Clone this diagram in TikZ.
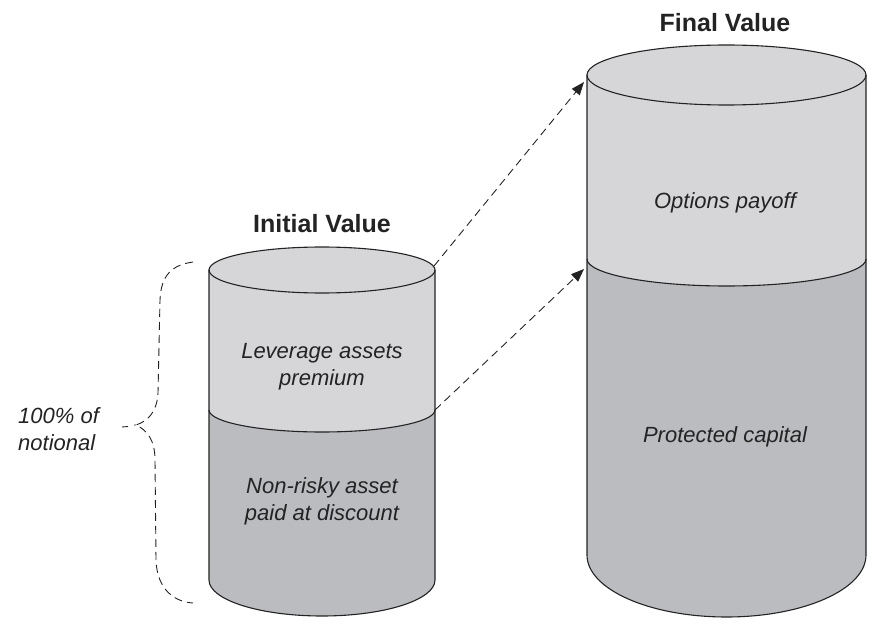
\documentclass[tikz,border=0pt]{standalone}
\usepackage{fontspec}
\setmainfont{Liberation Sans}
\usetikzlibrary{arrows.meta}
\definecolor{lightfill}{RGB}{214,214,216}
\definecolor{darkfill}{RGB}{187,188,192}
\definecolor{ink}{RGB}{35,35,35}
\tikzset{
  outline/.style={draw=ink, line width=1.1pt},
  body/.style={font=\fontsize{22}{27}\selectfont\itshape, text=ink, align=center, inner sep=0pt},
  title/.style={font=\fontsize{25}{30}\selectfont\bfseries, text=ink, inner sep=0pt},
  dasharrow/.style={draw=ink, line width=0.9pt, dash pattern=on 8pt off 5pt, -{Triangle[length=13pt,width=10pt]}},
  bracepath/.style={draw=ink, line width=0.9pt, dash pattern=on 8pt off 5pt}
}
\begin{document}
\begin{tikzpicture}[x=1pt,y=1pt]
\useasboundingbox (0,0) rectangle (879,625);
% ---------- left cylinder ----------
\fill[lightfill] (209,355) -- (209,215) arc[start angle=180,end angle=360,x radius=113,y radius=22] -- (435,355) arc[start angle=0,end angle=180,x radius=113,y radius=23] -- cycle;
\fill[darkfill] (209,215) arc[start angle=180,end angle=360,x radius=113,y radius=22] -- (435,45) arc[start angle=0,end angle=-180,x radius=113,y radius=36] -- cycle;
\draw[outline] (322,355) ellipse[x radius=113,y radius=23];
\draw[outline] (209,355) -- (209,45) arc[start angle=180,end angle=360,x radius=113,y radius=36] -- (435,355);
\draw[outline] (209,215) arc[start angle=180,end angle=360,x radius=113,y radius=22];
% ---------- right cylinder ----------
\fill[lightfill] (587,550) -- (587,366) arc[start angle=180,end angle=360,x radius=139.5,y radius=27] -- (866,550) arc[start angle=0,end angle=180,x radius=139.5,y radius=30] -- cycle;
\fill[darkfill] (587,366) arc[start angle=180,end angle=360,x radius=139.5,y radius=27] -- (866,70) arc[start angle=0,end angle=-180,x radius=139.5,y radius=62] -- cycle;
\draw[outline] (726.5,550) ellipse[x radius=139.5,y radius=30];
\draw[outline] (587,550) -- (587,70) arc[start angle=180,end angle=360,x radius=139.5,y radius=62] -- (866,550);
\draw[outline] (587,366) arc[start angle=180,end angle=360,x radius=139.5,y radius=27];
% ---------- texts ----------
\node[title] (initial) at (322,401) {Initial Value};
\node[title] (final) at (725,602) {Final Value};
\node[body] (lev) at (322,258) {Leverage assets\\premium};
\node[body] (nonrisky) at (322,124) {Non-risky asset\\paid at discount};
\node[body] (options) at (725,422) {Options payoff};
\node[body] (protected) at (725,188) {Protected capital};
\node[body, align=left, anchor=west] (notional) at (18,196) {100\% of\\notional};
% ---------- connectors ----------
\coordinate (ltop) at (434,359);
\coordinate (ldiv) at (435,215);
\coordinate (rtop) at (584,543);
\coordinate (rdiv) at (584,356);
\draw[dasharrow] (ltop) -- (rtop);
\draw[dasharrow] (ldiv) -- (rdiv);
% ---------- brace ----------
\coordinate (btop) at (193,363);
\coordinate (btip) at (136,200);
\coordinate (bbot) at (193,22);
\coordinate (btail) at (122,198);
\draw[bracepath] (btop) .. controls (172,360) and (161,350) .. (160,325) -- (158,232) .. controls (157,213) and (148,204) .. (btip) .. controls (147,195) and (155,185) .. (155,165) -- (156,65) .. controls (157,35) and (175,23) .. (bbot);
\draw[draw=ink, line width=0.9pt] (btip) -- ++(-2,0) (128,198.5) -- (btail);
\end{tikzpicture}
\end{document}
